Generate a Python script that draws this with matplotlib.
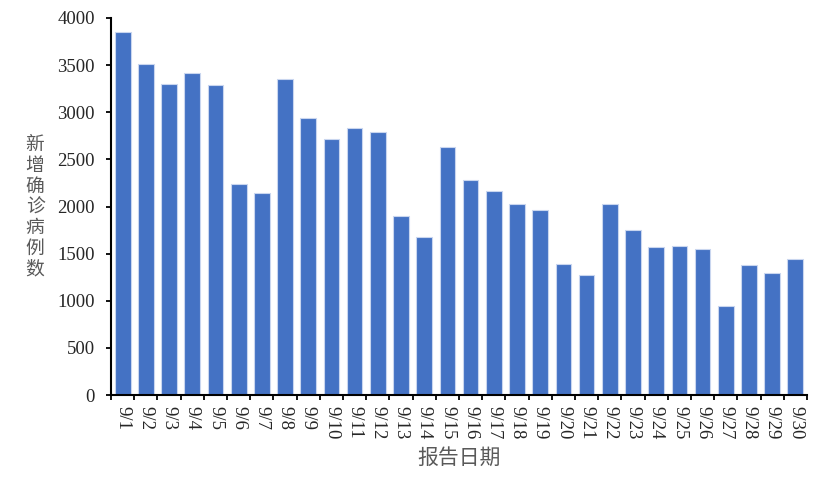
import matplotlib.pyplot as plt
import numpy as np

plt.rcParams['font.family'] = ['Liberation Serif', 'Noto Sans CJK SC', 'DejaVu Sans']

# daily new confirmed cases, September
dates = ['9/%d' % d for d in range(1, 31)]
cases = [3855, 3508, 3300, 3413, 3289, 2242, 2140, 3353, 2942, 2716,
         2836, 2787, 1899, 1673, 2635, 2281, 2168, 2023, 1963, 1386,
         1273, 2023, 1747, 1567, 1578, 1552, 941, 1376, 1294, 1446]

fig = plt.figure(figsize=(8.31, 4.86), dpi=100)
ax = fig.add_axes([0.1336, 0.1872, 0.9711 - 0.1336, 0.963 - 0.1872])

x = np.arange(len(dates))
ax.bar(x, cases, width=0.68, color='#4472C4', edgecolor='#C9D6EF', linewidth=0.8)

ax.set_xlim(-0.5, len(dates) - 0.5)
ax.set_ylim(0, 4000)
ax.set_yticks(np.arange(0, 4001, 500))
ax.set_xticks(x)
ax.set_xticklabels(dates, rotation=-90, fontsize=13.5, color='#262626')
ax.set_xticks(np.arange(-0.5, len(dates), 1), minor=True)
ax.tick_params(axis='x', which='major', length=0, pad=8)
ax.tick_params(axis='x', which='minor', length=3.6, width=1.3, direction='out')
ax.tick_params(axis='y', length=3.6, width=1.3, direction='out', labelsize=13.5,
               labelcolor='#262626', pad=8)

for s in ['top', 'right']:
    ax.spines[s].set_visible(False)
for s in ['left', 'bottom']:
    ax.spines[s].set_linewidth(1.5)

fig.text(35 / 831, 1 - 207 / 486, '\n'.join('新增确诊病例数'), ha='center', va='center',
         fontsize=13.5, color='#595959', linespacing=0.98,
         family=['Noto Sans CJK SC', 'DejaVu Sans'])
ax.set_xlabel('报告日期', fontsize=15, color='#595959', labelpad=5,
              family=['Noto Sans CJK SC', 'DejaVu Sans'])

fig.savefig('out.png', dpi=100)
